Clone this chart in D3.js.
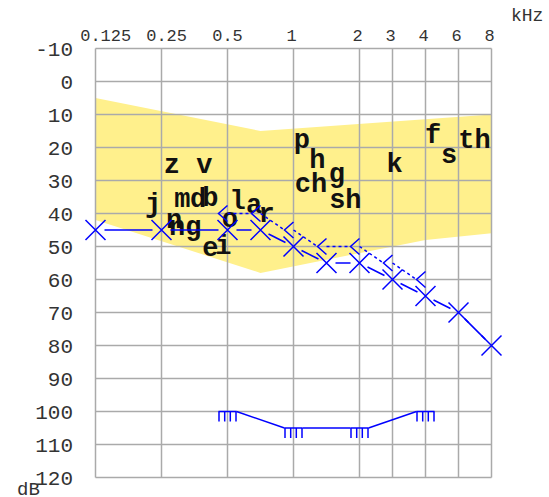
<!DOCTYPE html>
<html><head><meta charset="utf-8">
<script src="https://cdn.jsdelivr.net/npm/d3@7"></script>
<style>body{margin:0;background:#fff}svg{display:block}</style>
</head><body>
<svg id="c" width="549" height="497"></svg>
<script>
// ---- data ----
const scaleFreqs = [0.125,0.25,0.5,0.75,1,1.5,2,3,4,6,8];
const scaleIndex = [0,1,2,2.5,3,3.5,4,4.5,5,5.5,6];
const gridFreqs = [0.125,0.25,0.5,1,2,3,4,6,8];
const freqLabels = ["0.125","0.25","0.5","1","2","3","4","6","8"];
const dbTicks = [-10,0,10,20,30,40,50,60,70,80,90,100,110,120];

const bananaFreqs = [0.125,0.75,8,8,4,0.75,0.125];
const bananaDb    = [5,15,10,46,48,58,42];

const airFreqs = [0.125,0.25,0.5,0.75,1,1.5,2,3,4,6,8];
const airDb    = [45,45,45,45,50,55,55,60,65,70,80];

const boneFreqs = [0.5,0.75,1,1.5,2,3,4];
const boneDb    = [40,40,45,50,50,55,60];

const combFreqs = [0.5,1,2,4];
const combDb    = [100,105,105,100];

const phonemeText = ["z v","j","n","ng","m","d","b","e","i","o","l","a","r","p","h","ch","g","sh","k","f","s","th"];
const phonemeFreq = [0.351,0.234,0.298,0.34,0.329,0.389,0.435,0.435,0.484,0.517,0.577,0.702,0.796,1.128,1.363,1.264,1.657,1.786,3.066,4.46,5.43,6.97];
const phonemeDb   = [27.7,39.5,44.4,46.5,38.0,38.0,37.7,52.9,52.3,44.0,38.5,39.8,42.6,20.2,26.2,33.5,30.5,38.3,27.4,18.6,24.7,20.2];

// ---- scales ----
const L = 95.5, R = 491.5, T = 48.5, B = 477.5;
const oct = (R - L) / 6;
const x = d3.scaleLinear().domain(scaleFreqs).range(scaleIndex.map(i => L + i * oct));
const y = d3.scaleLinear().domain([-10,120]).range([T,B]);

const svg = d3.select("#c");
const blue = "#0000ff";
const mono = "'Liberation Mono','Courier New',monospace";

// banana
svg.append("path")
  .attr("d", d3.line()(bananaFreqs.map((f,i)=>[x(f), y(bananaDb[i])])) + "Z")
  .attr("fill", "#fff08c");

// grid
const g = svg.append("g").attr("stroke", "#aaaaaa").attr("stroke-width", 1.5);
g.selectAll(".v").data(gridFreqs).join("line")
  .attr("x1", d=>x(d)).attr("x2", d=>x(d)).attr("y1", T).attr("y2", B);
g.selectAll(".h").data(dbTicks).join("line")
  .attr("x1", L).attr("x2", R).attr("y1", d=>y(d)).attr("y2", d=>y(d));

// labels
svg.append("g").selectAll("text").data(dbTicks).join("text")
  .attr("x", 73).attr("y", d=>y(d)).attr("dy", "0.35em")
  .attr("text-anchor", "end").attr("font-family", mono).attr("font-size", 21)
  .attr("fill", "#333").text(d=>d);

const cw = 17 * 0.6;
svg.append("g").selectAll("text").data(gridFreqs).join("text")
  .attr("x", (d,i)=> freqLabels[i].includes(".") ? x(d) - 1.5*cw : x(d) - 2)
  .attr("text-anchor", (d,i)=> freqLabels[i].includes(".") ? "start" : "middle")
  .attr("y", 41).attr("font-family", mono).attr("font-size", 17)
  .attr("fill", "#333").text((d,i)=>freqLabels[i]);

svg.append("text").attr("x", 511).attr("y", 21).attr("font-family", mono)
  .attr("font-size", 18).attr("fill", "#333").text("kHz");
svg.append("text").attr("x", 17).attr("y", 495).attr("font-family", mono)
  .attr("font-size", 19).attr("fill", "#333").text("dB");

// phonemes
svg.append("g").selectAll("text").data(phonemeText).join("text")
  .attr("x", (d,i)=>x(phonemeFreq[i])).attr("y", (d,i)=>y(phonemeDb[i]))
  .attr("text-anchor", "middle").attr("font-family", mono).attr("font-weight", "bold")
  .attr("font-size", 27).attr("fill", "#111").text(d=>d);

// air conduction: X markers with trimmed segments
const ap = airFreqs.map((f,i)=>[x(f), y(airDb[i])]);
const trim = 9;
const ag = svg.append("g").attr("stroke", blue).attr("stroke-width", 1.5).attr("fill","none");
for (let i=0;i<ap.length-1;i++){
  const [x1,y1]=ap[i],[x2,y2]=ap[i+1];
  const dx=x2-x1, dy=y2-y1, len=Math.hypot(dx,dy);
  ag.append("line").attr("x1",x1+dx/len*trim).attr("y1",y1+dy/len*trim)
    .attr("x2",x2-dx/len*trim).attr("y2",y2-dy/len*trim);
}
const m = 10;
ap.forEach(([px,py])=>{
  ag.append("path").attr("d",`M${px-m},${py-m}L${px+m},${py+m}M${px-m},${py+m}L${px+m},${py-m}`);
});

// bone conduction "<" markers with dotted lines
const bp = boneFreqs.map((f,i)=>[x(f), y(boneDb[i])]);
const bg = svg.append("g").attr("stroke", blue).attr("stroke-width", 1.5).attr("fill","none");
for (let i=0;i<bp.length-1;i++){
  bg.append("line").attr("x1",bp[i][0]).attr("y1",bp[i][1])
    .attr("x2",bp[i+1][0]-9).attr("y2",bp[i+1][1]).attr("stroke-dasharray","3,3");
}
bp.forEach(([px,py])=>{
  bg.append("path").attr("d",`M${px},${py-8}L${px-9},${py}L${px},${py+8}`);
});

// comb series
const cp = combFreqs.map((f,i)=>[x(f), y(combDb[i])]);
const cg = svg.append("g").attr("stroke", blue).attr("stroke-width", 1.5).attr("fill","none");
for (let i=0;i<cp.length-1;i++){
  cg.append("line").attr("x1",cp[i][0]+9).attr("y1",cp[i][1])
    .attr("x2",cp[i+1][0]-9).attr("y2",cp[i+1][1]);
}
cp.forEach(([px,py])=>{
  cg.append("line").attr("x1",px-9).attr("x2",px+9).attr("y1",py).attr("y2",py);
  [-8.5,-2.8,2.8,8.5].forEach(o=>{
    cg.append("line").attr("x1",px+o).attr("x2",px+o).attr("y1",py).attr("y2",py+10);
  });
});
</script>
</body></html>
